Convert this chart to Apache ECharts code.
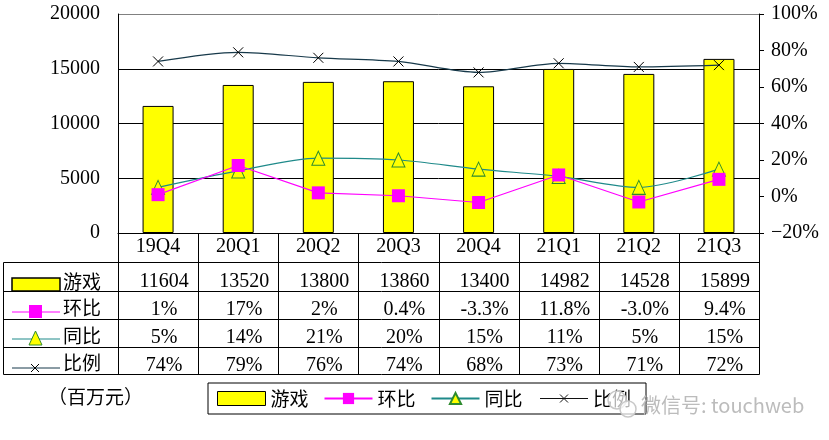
<!DOCTYPE html>
<html><head><meta charset="utf-8">
<script src="https://cdn.jsdelivr.net/npm/echarts@6/dist/echarts.min.js"></script>
<style>html,body{margin:0;padding:0;background:#fff}#c{width:829px;height:440px}</style>
</head><body><div id="c"></div>
<script>
// ---- data ----
const categories = ['19Q4','20Q1','20Q2','20Q3','20Q4','21Q1','21Q2','21Q3'];
const gameRevenue = [11604, 13520, 13800, 13860, 13400, 14982, 14528, 15899];
const qoqGrowth = [1, 17, 2, 0.4, -3.3, 11.8, -3.0, 9.4];
const yoyGrowth = [5, 14, 21, 20, 15, 11, 5, 15];
const gameShare = [74, 79, 76, 74, 68, 73, 71, 72];
const qoqLabels = ['1%','17%','2%','0.4%','-3.3%','11.8%','-3.0%','9.4%'];
const yoyLabels = ['5%','14%','21%','20%','15%','11%','5%','15%'];
const shareLabels = ['74%','79%','76%','74%','68%','73%','71%','72%'];
const seriesNames = ['游戏','环比','同比','比例'];
const leftAxisRange = [0, 20000, 5000];
const rightAxisRange = [-20, 100, 20];
const unitLabel = '（百万元）';
const watermark = '微信号: touchweb';

// ---- styles ----
const SERIF = "'Liberation Serif','Noto Sans CJK SC',serif";
const CJK = "'Noto Sans CJK SC',sans-serif";
const YELLOW = '#FFFF00', MAGENTA = '#FF00FF', TEAL = '#1F8A8A', TRI_EDGE = '#2E8B2E', DARK = '#17394A';
const G = {left: 118, top: 14, right: 759, bottom: 233};
const XMARK = 'path://M0,0L10,10M10,0L0,10';
const XLEGEND = 'path://M0,7L48,7M20,3L28,11M28,3L20,11M0,2L0,2M48,12L48,12';

const chart = echarts.init(document.getElementById('c'), null, {renderer: 'canvas'});

const colW = (G.right - G.left) / categories.length;
const rowLines = [262, 291, 319, 347, 374];
const graphics = [];
const P = v => Math.round(v) + 0.5;
rowLines.forEach(y => graphics.push({type: 'line', shape: {x1: 3.5, y1: P(y), x2: P(G.right), y2: P(y)}, style: {stroke: '#000', lineWidth: 1}, silent: true}));
graphics.push({type: 'line', shape: {x1: 3.5, y1: P(262), x2: 3.5, y2: P(374)}, style: {stroke: '#000', lineWidth: 1}});
for (let i = 0; i <= categories.length; i++) {
  const x = P(G.left + i * colW);
  graphics.push({type: 'line', shape: {x1: x, y1: P(G.bottom), x2: x, y2: P(374)}, style: {stroke: '#000', lineWidth: 1}});
}
// row label icons
graphics.push({type: 'rect', shape: {x: 12, y: 278, width: 48, height: 13}, style: {fill: YELLOW, stroke: '#000', lineWidth: 1.5}});
graphics.push({type: 'line', shape: {x1: 12, y1: 312, x2: 60, y2: 312}, style: {stroke: MAGENTA, lineWidth: 1}});
graphics.push({type: 'rect', shape: {x: 29, y: 305, width: 13, height: 13}, style: {fill: MAGENTA}});
graphics.push({type: 'line', shape: {x1: 12, y1: 339, x2: 60, y2: 339}, style: {stroke: TEAL, lineWidth: 1}});
graphics.push({type: 'polygon', shape: {points: [[35.5, 331], [29, 345], [42, 345]]}, style: {fill: YELLOW, stroke: TRI_EDGE, lineWidth: 1}});
graphics.push({type: 'line', shape: {x1: 12, y1: 368, x2: 60, y2: 368}, style: {stroke: DARK, lineWidth: 1}});
graphics.push({type: 'polyline', shape: {points: [[31, 364], [39, 372]]}, style: {stroke: '#000', lineWidth: 1}});
graphics.push({type: 'polyline', shape: {points: [[39, 364], [31, 372]]}, style: {stroke: '#000', lineWidth: 1}});
[[seriesNames[0], 282], [seriesNames[1], 308], [seriesNames[2], 336], [seriesNames[3], 363]].forEach(([t, y]) => {
  graphics.push({type: 'text', x: 63, y: y, style: {text: t, font: '19px ' + CJK, fill: '#000', verticalAlign: 'middle', align: 'left'}});
});
graphics.push({type: 'text', x: 48, y: 397, style: {text: unitLabel, font: '19px ' + CJK, fill: '#000', verticalAlign: 'middle'}});
// watermark
graphics.push({type: 'circle', shape: {cx: 617, cy: 400, r: 9}, style: {fill: 'rgba(255,255,255,0.7)', stroke: '#c8c8c8', lineWidth: 1.5}, z: 20});
graphics.push({type: 'circle', shape: {cx: 628, cy: 409, r: 8}, style: {fill: 'rgba(255,255,255,0.7)', stroke: '#c8c8c8', lineWidth: 1.5}, z: 20});
graphics.push({type: 'text', x: 641, y: 405, z: 20, style: {text: watermark, font: '20px ' + CJK, fill: '#bcbcbc', verticalAlign: 'middle'}});

const option = {
  animation: false,
  backgroundColor: '#fff',
  grid: {left: G.left, top: G.top, width: G.right - G.left, height: G.bottom - G.top, show: false},
  legend: {
    data: [
      {name: seriesNames[0], icon: 'rect', itemStyle: {borderWidth: 1, borderColor: '#000'}},
      {name: seriesNames[1]},
      {name: seriesNames[2]},
      {name: seriesNames[3], icon: XLEGEND, itemStyle: {color: 'none', borderColor: '#111', borderWidth: 1}}
    ],
    left: 208, top: 383, orient: 'horizontal', symbolKeepAspect: true,
    padding: [6, 15, 6, 9], itemGap: 15, itemWidth: 48, itemHeight: 14,
    borderColor: '#000', borderWidth: 1, backgroundColor: '#fff',
    textStyle: {fontSize: 19, fontFamily: CJK, color: '#000'}
  },
  xAxis: {
    type: 'category', data: categories,
    axisLine: {show: true, lineStyle: {color: '#000', width: 1}},
    axisTick: {show: false},
    axisLabel: {
      interval: 0, margin: 0, color: '#000',
      formatter: (v, i) => `{c|${v}}\n{s| }\n{v|${gameRevenue[i]}}\n{v|${qoqLabels[i]}}\n{v|${yoyLabels[i]}}\n{v|${shareLabels[i]}}`,
      rich: {
        c: {fontSize: 20, lineHeight: 28, fontFamily: SERIF, color: '#000'},
        s: {fontSize: 1, lineHeight: 7},
        v: {fontSize: 20, lineHeight: 28, fontFamily: SERIF, color: '#000', padding: [0, 0, 0, 12]}
      }
    }
  },
  yAxis: [
    {
      type: 'value', min: leftAxisRange[0], max: leftAxisRange[1], interval: leftAxisRange[2], position: 'left',
      axisLine: {show: true, lineStyle: {color: '#000'}}, axisTick: {show: false},
      axisLabel: {margin: 18, fontSize: 20, fontFamily: SERIF, color: '#000', formatter: v => String(v)},
      splitLine: {show: true, lineStyle: {color: ['#000', '#000', '#000', '#000', '#808080'], width: 1}}
    },
    {
      type: 'value', min: rightAxisRange[0], max: rightAxisRange[1], interval: rightAxisRange[2], position: 'right',
      axisLine: {show: true, lineStyle: {color: '#000'}},
      axisTick: {show: true, inside: false, length: 5, lineStyle: {color: '#000'}},
      axisLabel: {margin: 12, fontSize: 20, fontFamily: SERIF, color: '#000', formatter: v => (v < 0 ? '−' + Math.abs(v) : v) + '%'},
      splitLine: {show: false}
    }
  ],
  series: [
    {name: seriesNames[0], type: 'bar', yAxisIndex: 0, data: gameRevenue, barWidth: 31,
     itemStyle: {color: YELLOW, borderColor: '#000', borderWidth: 1}},
    {name: seriesNames[1], type: 'line', yAxisIndex: 1, data: qoqGrowth, z: 4,
     symbol: 'rect', symbolSize: 13, lineStyle: {color: MAGENTA, width: 1.2},
     itemStyle: {color: MAGENTA}},
    {name: seriesNames[2], type: 'line', yAxisIndex: 1, data: yoyGrowth, z: 3, smooth: 0.3,
     symbol: 'triangle', symbolSize: [13, 14], lineStyle: {color: TEAL, width: 1.2},
     itemStyle: {color: YELLOW, borderColor: TRI_EDGE, borderWidth: 1}},
    {name: seriesNames[3], type: 'line', yAxisIndex: 1, data: gameShare, z: 3, smooth: 0.3,
     symbol: XMARK, symbolSize: 10, lineStyle: {color: DARK, width: 1.2},
     itemStyle: {color: 'rgba(0,0,0,0)', borderColor: '#000', borderWidth: 1}}
  ],
  graphic: graphics
};
chart.setOption(option);
</script></body></html>
